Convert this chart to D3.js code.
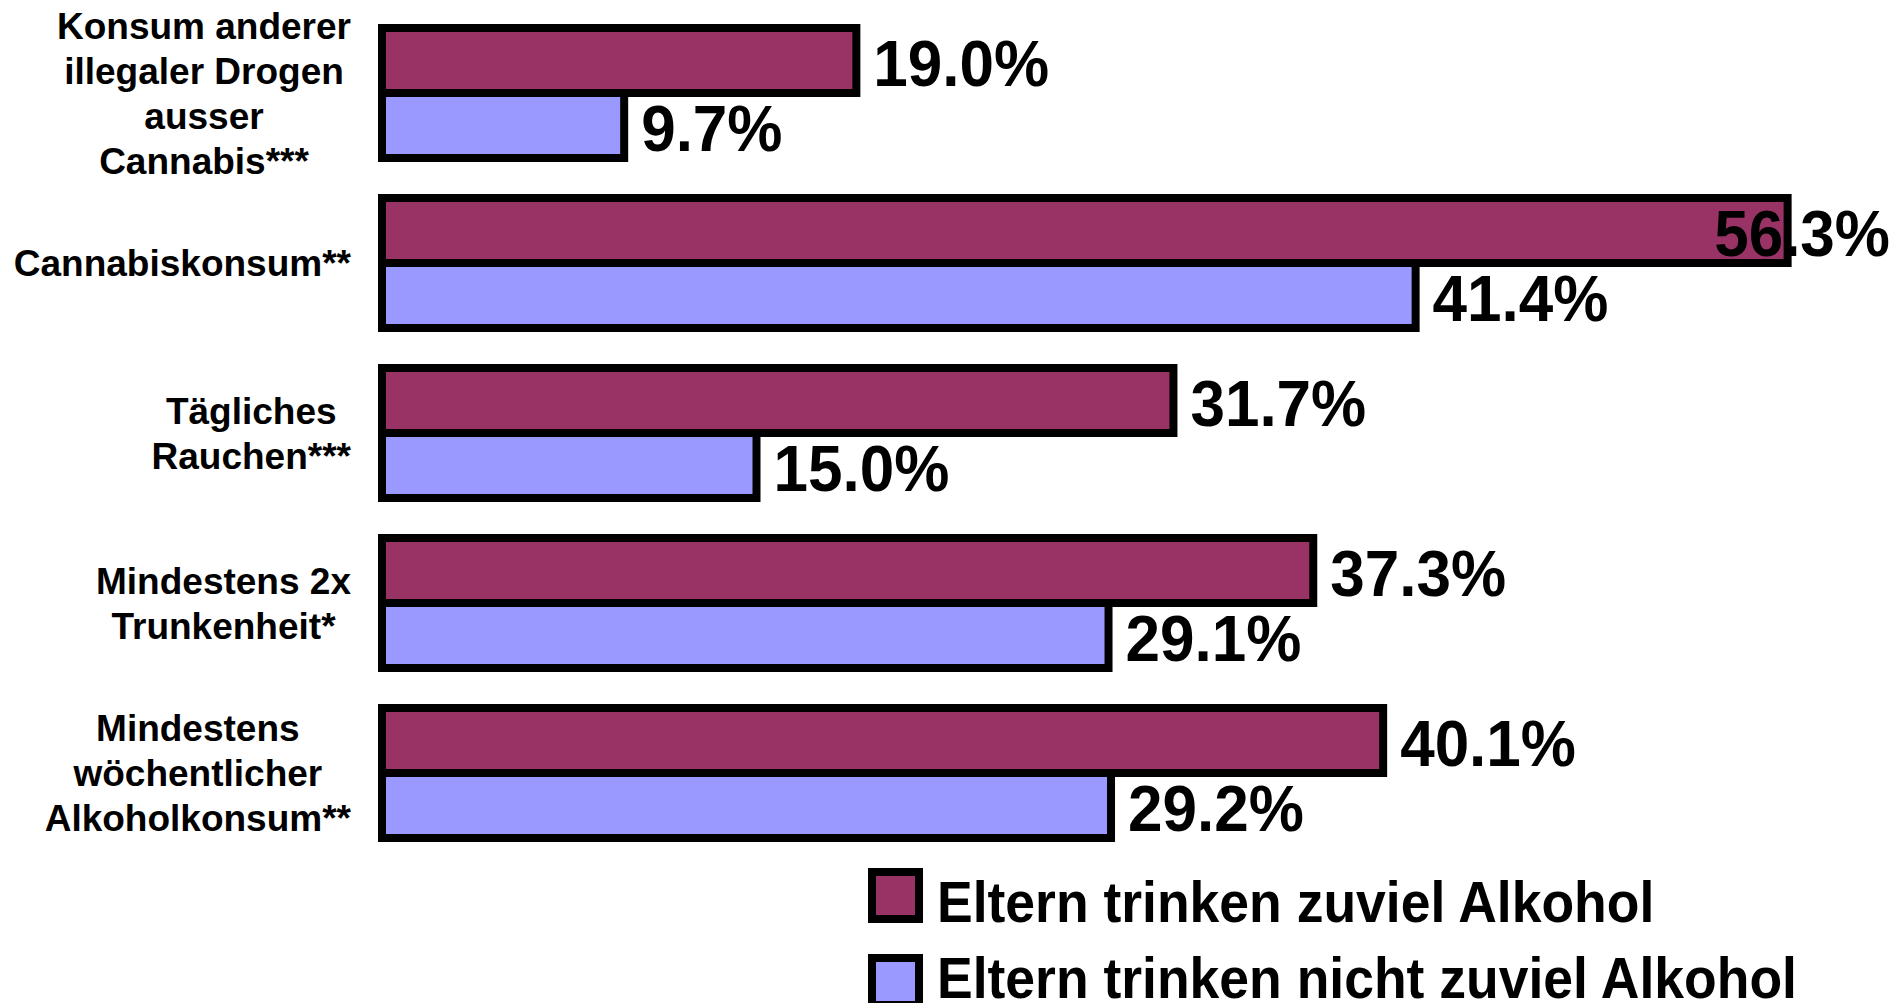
<!DOCTYPE html>
<html lang="de">
<head>
  <meta charset="UTF-8" />
  <title>Eltern trinken zuviel Alkohol</title>
  <script src="https://cdn.jsdelivr.net/npm/d3@7"></script>
  <style>
    body { margin: 0; background: #fff; }
    svg text { font-family: "Liberation Sans", Arial, sans-serif; font-weight: bold; fill: #000; }
  </style>
</head>
<body>
  <svg id="chart" width="1891" height="1003"></svg>
  <script>
    // categories (one entry per line of the label)
    let categories = [
      "Konsum anderer|illegaler Drogen|ausser|Cannabis***",
      "Cannabiskonsum**",
      "Tägliches|Rauchen***",
      "Mindestens 2x|Trunkenheit*",
      "Mindestens|wöchentlicher|Alkoholkonsum**"
    ];
    let seriesNames = ["Eltern trinken zuviel Alkohol", "Eltern trinken nicht zuviel Alkohol"];
    let seriesColors = ["#993366", "#9999ff"];
    let zuviel = [19.0, 56.3, 31.7, 37.3, 40.1];
    let nichtZuviel = [9.7, 41.4, 15.0, 29.1, 29.2];

    let W = 1891, H = 1003;
    let svg = d3.select("#chart");
    svg.append("rect").attr("width", W).attr("height", H).attr("fill", "#fff");

    let x = d3.scaleLinear().domain([0, 60]).range([382, 1880]);
    let y0 = d3.scaleBand().domain(categories).range([28, 838]).paddingInner(40 / 170).paddingOuter(0);
    let y1 = d3.scaleBand().domain([0, 1]).range([0, y0.bandwidth()]);

    let rows = categories.map(function (c, i) {
      return { cat: c, values: [zuviel[i], nichtZuviel[i]] };
    });

    let groups = svg.selectAll("g.group")
      .data(rows)
      .join("g")
      .attr("class", "group")
      .attr("transform", d => "translate(0," + y0(d.cat) + ")");

    // bars
    groups.selectAll("rect")
      .data(d => d.values.map((v, k) => ({ v: v, k: k })))
      .join("rect")
      .attr("x", x(0))
      .attr("y", d => y1(d.k))
      .attr("width", d => x(d.v) - x(0))
      .attr("height", y1.bandwidth())
      .attr("fill", d => seriesColors[d.k])
      .attr("stroke", "#000")
      .attr("stroke-width", 8);

    // value labels (pushed back inside when they would run off the right edge)
    groups.selectAll("text.val")
      .data(d => d.values.map((v, k) => ({ v: v, k: k })))
      .join("text")
      .attr("class", "val")
      .style("font-size", "62px")
      .text(d => d.v.toFixed(1) + "%")
      .each(function (d) {
        let w = this.getComputedTextLength();
        let tx = Math.min(x(d.v) + 17, W - 1 - w);
        let ty = y1(d.k) + y1.bandwidth() / 2 + 25;
        d3.select(this).attr("transform", "translate(" + tx + "," + ty + ") scale(1,1.06)");
      });

    // category labels: centred lines, block right edge at 351
    groups.each(function (d) {
      let g = d3.select(this);
      let lines = d.cat.split("|");
      let mid = y0.bandwidth() / 2;
      let first = mid - ((lines.length - 1) * 45 + 26.5) / 2 + 26.5;
      let t = g.append("text").style("font-size", "37px").attr("text-anchor", "middle");
      lines.forEach(function (l, j) {
        t.append("tspan").attr("y", first + j * 45).text(l);
      });
      let maxW = d3.max(t.selectAll("tspan").nodes(), n => n.getComputedTextLength());
      t.selectAll("tspan").attr("x", 351 - maxW / 2);
    });

    // legend
    let legend = svg.append("g");
    let ly = d3.scaleOrdinal().domain([0, 1]).range([872, 958]);
    seriesNames.forEach(function (s, k) {
      legend.append("rect")
        .attr("x", 872)
        .attr("y", ly(k))
        .attr("width", 47)
        .attr("height", 47)
        .attr("fill", seriesColors[k])
        .attr("stroke", "#000")
        .attr("stroke-width", 8);
      legend.append("text")
        .attr("transform", "translate(937," + (ly(k) + 50 - k * 10) + ") scale(1,1.08)")
        .style("font-size", "53.5px")
        .text(s);
    });
  </script>
</body>
</html>
